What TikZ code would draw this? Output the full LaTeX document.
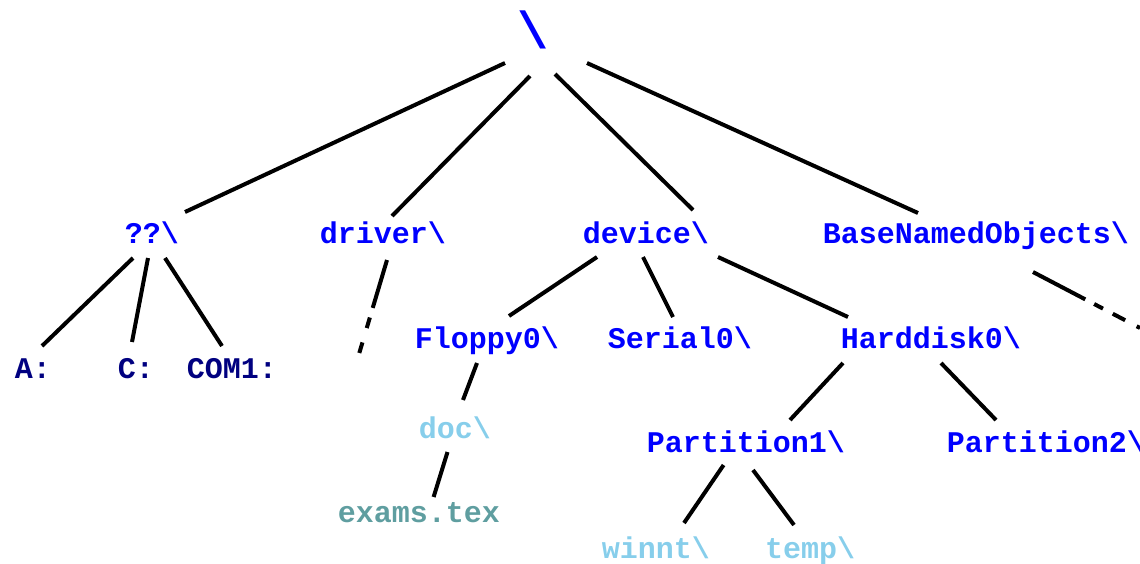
\documentclass[tikz,border=0pt]{standalone}
\usepackage{fontspec}
\newfontfamily\cour{Liberation Mono}
\definecolor{dirblue}{RGB}{0,0,255}
\definecolor{devnavy}{RGB}{0,0,128}
\definecolor{lightdir}{RGB}{135,206,235}
\definecolor{filecol}{RGB}{95,158,160}
\begin{document}
\begin{tikzpicture}[x=0.5pt,y=-0.5pt,
  lbl/.style={inner sep=0pt,outer sep=0pt,anchor=base,font=\cour\bfseries\fontsize{15}{18}\selectfont},
  dir/.style={lbl,text=dirblue},
  dev/.style={lbl,text=devnavy},
  sub/.style={lbl,text=lightdir},
  fil/.style={lbl,text=filecol},
  edge/.style={draw=black,line width=2pt},
  fade1/.style={edge,dash pattern=on 25pt off 5pt on 5.5pt off 7.5pt on 5.5pt off 50pt},
  fade2/.style={edge,dash pattern=on 29.5pt off 5pt on 5pt off 5.5pt on 7pt off 6.5pt on 7pt off 50pt}]
\useasboundingbox (0,0) rectangle (1140,563);
% nodes
\node[lbl,text=dirblue,font=\cour\bfseries\fontsize{26}{30}\selectfont] (root) at (533,48) {\textbackslash};
\node[dir] (qq) at (152,243) {??\textbackslash};
\node[dir] (driver) at (383,243) {driver\textbackslash};
\node[dir] (device) at (646,243) {device\textbackslash};
\node[dir] (bno) at (976,243) {BaseNamedObjects\textbackslash};
\node[dev] (a) at (33,378) {A:};
\node[dev] (c) at (136,378) {C:};
\node[dev] (com) at (232,378) {COM1:};
\node[dir] (floppy) at (487,348) {Floppy0\textbackslash};
\node[dir] (serial) at (680,348) {Serial0\textbackslash};
\node[dir] (hdd) at (931,348) {Harddisk0\textbackslash};
\node[sub] (doc) at (455,438) {doc\textbackslash};
\node[fil] (exams) at (419,522) {exams.tex};
\node[dir] (p1) at (746,452) {Partition1\textbackslash};
\node[dir] (p2) at (1046,452) {Partition2\textbackslash};
\node[sub] (winnt) at (656,558) {winnt\textbackslash};
\node[sub] (temp) at (810,558) {temp\textbackslash};
\coordinate (drvend) at (359,354);
\coordinate (bnoend) at (1140,328);
% connectors
\draw[edge] ([shift={(-28,15)}]root.base) -- ([shift={(33,-31)}]qq.base);
\draw[edge] ([shift={(-3,28)}]root.base) -- ([shift={(9,-27)}]driver.base);
\draw[edge] ([shift={(22,26)}]root.base) -- ([shift={(47,-33)}]device.base);
\draw[edge] ([shift={(54,15)}]root.base) -- ([shift={(-58,-30)}]bno.base);
\draw[edge] ([shift={(-19,15)}]qq.base) -- ([shift={(9,-32)}]a.base);
\draw[edge] ([shift={(-4,15)}]qq.base) -- ([shift={(-4,-36)}]c.base);
\draw[edge] ([shift={(13,15)}]qq.base) -- ([shift={(-10,-32)}]com.base);
\draw[fade1] ([shift={(4,17)}]driver.base) -- (drvend);
\draw[edge] ([shift={(-49,14)}]device.base) -- ([shift={(22,-32)}]floppy.base);
\draw[edge] ([shift={(-3,14)}]device.base) -- ([shift={(-7,-31)}]serial.base);
\draw[edge] ([shift={(72,14)}]device.base) -- ([shift={(-83,-31)}]hdd.base);
\draw[fade2] ([shift={(57,29)}]bno.base) -- (bnoend);
\draw[edge] ([shift={(-10,15)}]floppy.base) -- ([shift={(8,-38)}]doc.base);
\draw[edge] ([shift={(-7.5,14)}]doc.base) -- ([shift={(14.6,-25)}]exams.base);
\draw[edge] ([shift={(-88,15)}]hdd.base) -- ([shift={(44,-32)}]p1.base);
\draw[edge] ([shift={(10,15)}]hdd.base) -- ([shift={(-50,-32)}]p2.base);
\draw[edge] ([shift={(-22.4,13)}]p1.base) -- ([shift={(28,-35)}]winnt.base);
\draw[edge] ([shift={(7,18)}]p1.base) -- ([shift={(-16,-33)}]temp.base);
\end{tikzpicture}
\end{document}
